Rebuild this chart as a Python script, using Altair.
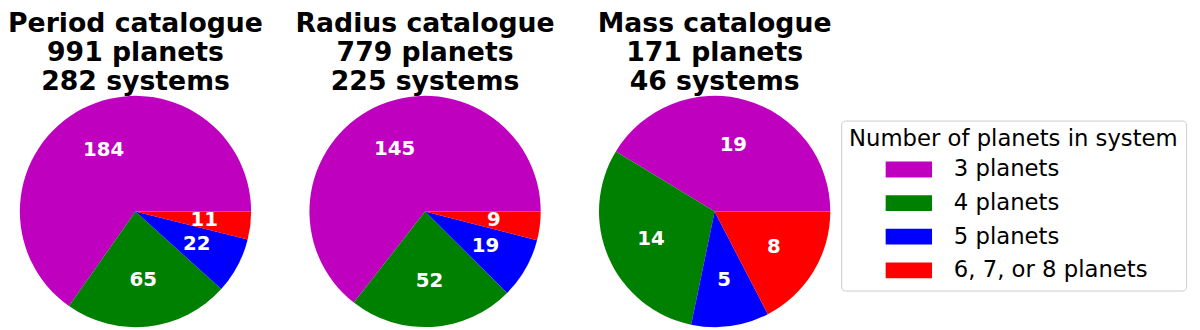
import math
import altair as alt
import pandas as pd

catalogues = ["Period catalogue", "Radius catalogue", "Mass catalogue"]
n_planets = [991, 779, 171]
n_systems = [282, 225, 46]
categories = ["3 planets", "4 planets", "5 planets", "6, 7, or 8 planets"]
colors = ["#bf00bf", "#008000", "#0000ff", "#ff0000"]
period_counts = [184, 65, 22, 11]
radius_counts = [145, 52, 19, 9]
mass_counts = [19, 14, 5, 8]
all_counts = [period_counts, radius_counts, mass_counts]

FONT = "DejaVu Sans"
R = 117

color_scale = alt.Scale(domain=categories, range=colors)
theta_scale = alt.Scale(range=[math.pi / 2, math.pi / 2 + 2 * math.pi])

# legend symbol: wide rectangle
sym = "M-2.76,-0.94 L2.76,-0.94 L2.76,0.94 L-2.76,0.94 Z"

panels = []
for i, cat in enumerate(catalogues):
    df = pd.DataFrame({
        "category": categories,
        "idx": list(range(len(categories))),
        "count": all_counts[i],
    })
    base = alt.Chart(df).encode(
        theta=alt.Theta("count:Q", stack=True, scale=theta_scale),
        order=alt.Order("idx:Q", sort="descending"),
    )
    arcs = base.mark_arc(outerRadius=R, stroke=None).encode(
        color=alt.Color(
            "category:N",
            scale=color_scale,
            sort=categories,
            legend=alt.Legend(title="Number of planets in system") if i == 0 else None,
        )
    )
    labels = base.mark_text(
        radius=R * 0.6, font=FONT, fontSize=20, fontWeight="bold", color="white"
    ).encode(text="count:Q")
    panel = alt.layer(arcs, labels).properties(
        width=2 * R,
        height=2 * R,
        title=alt.TitleParams(
            text=[cat, f"{n_planets[i]} planets", f"{n_systems[i]} systems"],
            font=FONT,
            fontSize=27,
            fontWeight="bold",
            lineHeight=29.5,
            color="black",
            offset=0,
            anchor="middle",
        ),
    ).resolve_scale(theta="independent")
    panels.append(panel)

chart = alt.hconcat(*panels, spacing=59, bounds="flush").resolve_scale(
    theta="independent", color="shared"
).properties(
    padding={"left": 0, "top": 0, "right": 5, "bottom": 0}
).configure_view(stroke=None).configure_legend(
    orient="none",
    legendX=831,
    legendY=25,
    titleFont=FONT,
    titleFontSize=23,
    titleFontWeight="normal",
    titleColor="black",
    titleLimit=500,
    labelFont=FONT,
    labelFontSize=23,
    labelColor="black",
    labelLimit=500,
    symbolType=sym,
    symbolSize=289,
    symbolStrokeWidth=0,
    symbolOpacity=1,
    symbolOffset=49,
    labelOffset=34,
    rowPadding=10,
    titlePadding=7,
    padding=8,
    strokeColor="#cccccc",
    fillColor="white",
    cornerRadius=4,
)

chart.save("out.html", embed_options={"renderer": "svg", "actions": False})
